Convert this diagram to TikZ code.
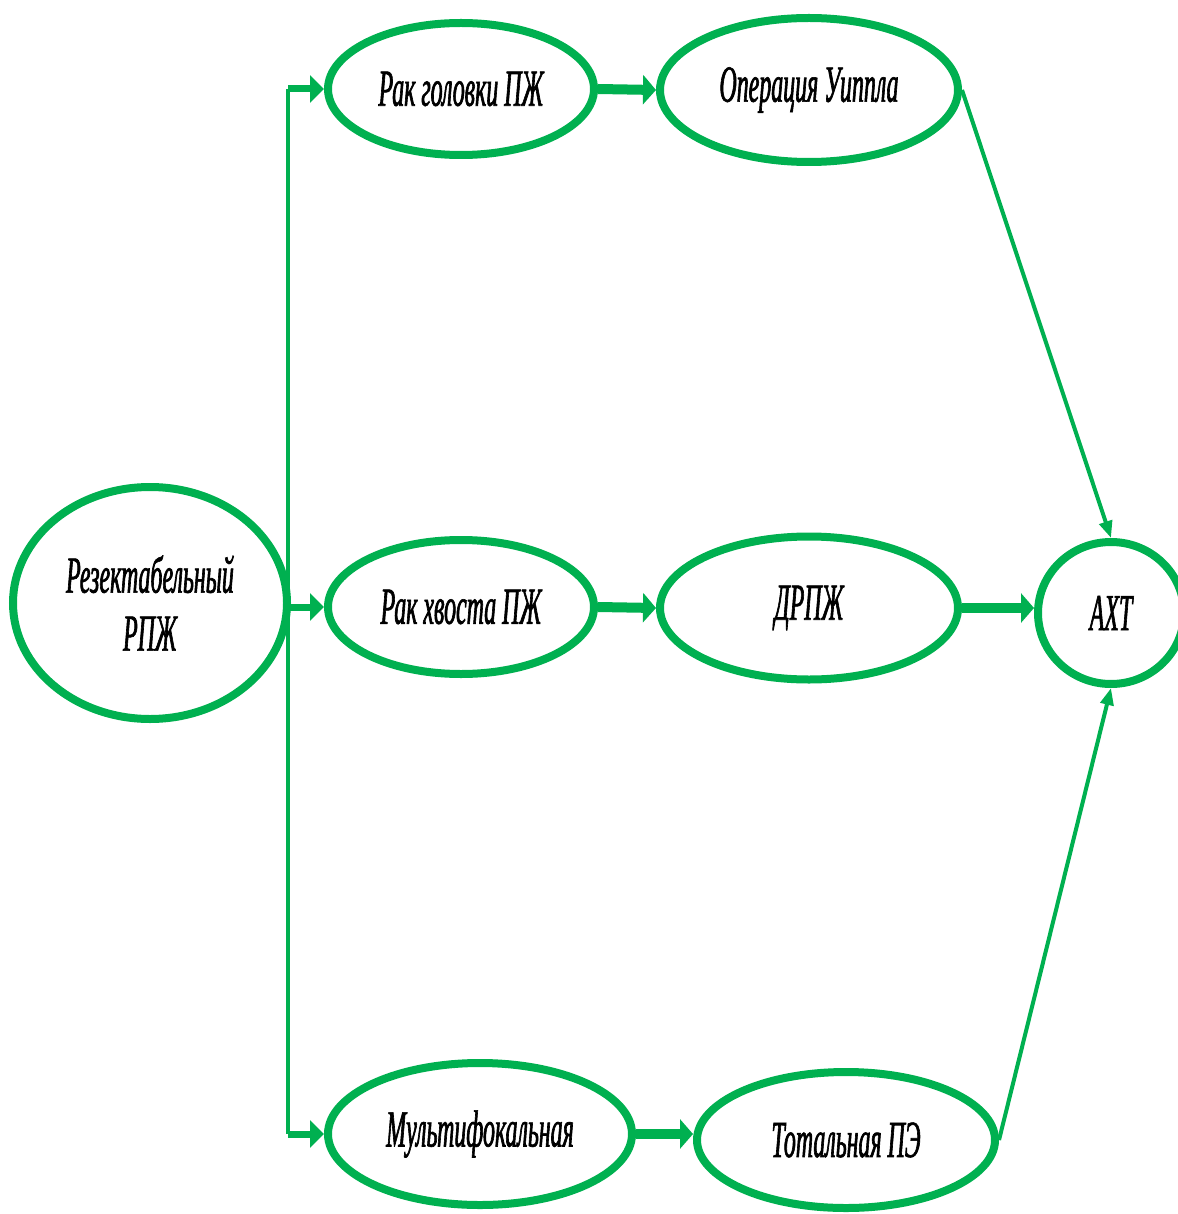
\documentclass[tikz,border=0pt]{standalone}
\usepackage{fontspec}
\setmainfont{Liberation Serif}[FakeStretch=0.46,FakeBold=1.2]
\usetikzlibrary{shapes.geometric,arrows.meta}
\definecolor{gr}{HTML}{00B050}
\begin{document}
\begin{tikzpicture}[x=1pt,y=-1pt,
  ell/.style={ellipse,draw=gr,line width=8pt,inner sep=0pt,align=center,
    font=\fontsize{52}{58}\selectfont\itshape},
  trunk/.style={draw=gr,line width=4.5pt},
  branch/.style={draw=gr,line width=7pt,-{Triangle[length=14pt,width=27pt]}},
  thick arrow/.style={draw=gr,line width=10pt,-{Triangle[length=13pt,width=29pt]}},
  diag/.style={draw=gr,line width=4pt,-{Triangle[length=17pt,width=13pt]}}]
\useasboundingbox (0,0) rectangle (1177,1214);
\node[ell,minimum width=274pt,minimum height=232pt] (res) at (150,603) {Резектабельный\\РПЖ};
\node[ell,minimum width=266pt,minimum height=132pt] (head) at (461,89) {Рак головки ПЖ};
\node[ell,minimum width=298pt,minimum height=144pt] (whip) at (809,90) {Операция Уиппла};
\node[ell,minimum width=266pt,minimum height=134pt] (tail) at (461,607) {Рак хвоста ПЖ};
\node[ell,minimum width=298pt,minimum height=143pt] (drpj) at (809,608) {ДРПЖ};
\node[ell,minimum width=146pt,minimum height=142pt] (axt) at (1111,613) {АХТ};
\node[ell,minimum width=304pt,minimum height=142pt] (multi) at (480,1134) {Мультифокальная};
\node[ell,minimum width=298pt,minimum height=136pt] (total) at (846,1140) {Тотальная ПЭ};
\coordinate (ttop) at (288,89);
\coordinate (tbot) at (288,1134);
\draw[trunk] (ttop) -- (tbot);
\draw[branch] (ttop) -- (head.west);
\draw[branch] (ttop |- tail.west) -- (tail.west);
\draw[branch] (tbot) -- (multi.west);
\draw[thick arrow] (head.east) -- (whip.west);
\draw[thick arrow] (tail.east) -- (drpj.west);
\draw[thick arrow] (multi.east) -- (multi.east -| total.west);
\draw[thick arrow] (drpj.east) -- (drpj.east -| axt.west);
\draw[diag] (whip.east) -- (axt.north);
\draw[diag] (total.east) -- (axt.south);
\end{tikzpicture}
\end{document}
